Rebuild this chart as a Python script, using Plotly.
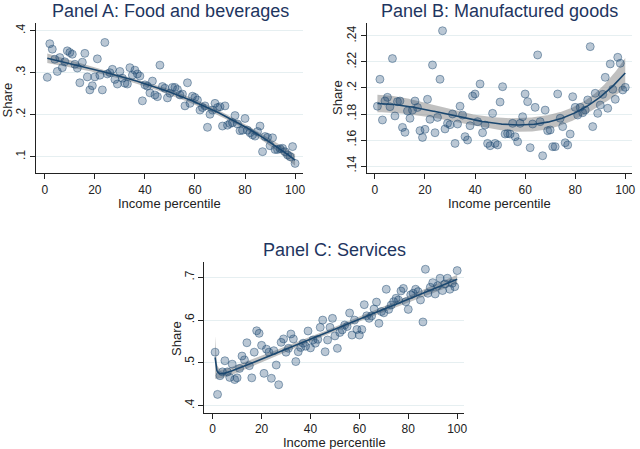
import numpy as np
import plotly.graph_objects as go

pct = list(range(1, 101))

food = [0.289, 0.369, 0.356, 0.332, 0.303, 0.336, 0.312, 0.326, 0.352, 0.348,
        0.344, 0.320, 0.311, 0.276, 0.325, 0.346, 0.290, 0.259, 0.269, 0.290,
        0.333, 0.294, 0.259, 0.372, 0.297, 0.300, 0.308, 0.284, 0.273, 0.303,
        0.287, 0.275, 0.273, 0.312, 0.294, 0.306, 0.297, 0.292, 0.233, 0.271,
        0.268, 0.252, 0.280, 0.247, 0.243, 0.318, 0.267, 0.263, 0.240, 0.251,
        0.265, 0.265, 0.260, 0.247, 0.249, 0.221, 0.276, 0.227, 0.244, 0.241,
        0.235, 0.211, 0.217, 0.221, 0.170, 0.201, 0.211, 0.227, 0.217, 0.219,
        0.173, 0.221, 0.175, 0.179, 0.181, 0.198, 0.178, 0.162, 0.163, 0.191,
        0.163, 0.157, 0.152, 0.149, 0.160, 0.173, 0.112, 0.148, 0.146, 0.126,
        0.145, 0.117, 0.117, 0.119, 0.120, 0.112, 0.104, 0.100, 0.124, 0.084]

manuf = [0.186, 0.2067, 0.1754, 0.190, 0.1928, 0.1856, 0.2226, 0.1785, 0.1895, 0.190,
         0.1697, 0.1659, 0.1823, 0.1767, 0.183, 0.190, 0.185, 0.1672, 0.162, 0.1682,
         0.1913, 0.1759, 0.2177, 0.1656, 0.1774, 0.2067, 0.244, 0.1685, 0.1728, 0.1718,
         0.180, 0.1574, 0.1723, 0.186, 0.1792, 0.1626, 0.160, 0.171, 0.1938, 0.1954,
         0.1741, 0.2031, 0.1656, 0.1715, 0.1574, 0.1556, 0.1805, 0.1574, 0.1562, 0.1892,
         0.201, 0.1646, 0.165, 0.1646, 0.1728, 0.1626, 0.1587, 0.1728, 0.1779, 0.1954,
         0.1895, 0.1541, 0.1723, 0.1851, 0.2254, 0.1741, 0.1479, 0.183, 0.1672, 0.1677,
         0.1549, 0.1549, 0.1954, 0.1767, 0.1703, 0.1579, 0.1562, 0.1646, 0.1933, 0.1851,
         0.1792, 0.1851, 0.181, 0.183, 0.1908, 0.2318, 0.1703, 0.1959, 0.1805, 0.1869,
         0.1951, 0.2082, 0.1844, 0.2185, 0.199, 0.1913, 0.2236, 0.219, 0.1985, 0.2005]

serv = [0.525, 0.4264, 0.470, 0.479, 0.505, 0.479, 0.466, 0.497, 0.461, 0.465,
        0.487, 0.516, 0.507, 0.547, 0.4935, 0.465, 0.525, 0.575, 0.569, 0.541,
        0.4755, 0.532, 0.525, 0.464, 0.5285, 0.495, 0.449, 0.548, 0.556, 0.525,
        0.534, 0.5675, 0.556, 0.503, 0.526, 0.536, 0.546, 0.539, 0.5745, 0.535,
        0.5535, 0.546, 0.555, 0.583, 0.600, 0.526, 0.5535, 0.583, 0.604, 0.563,
        0.534, 0.571, 0.577, 0.5885, 0.585, 0.6166, 0.565, 0.600, 0.578, 0.565,
        0.578, 0.636, 0.610, 0.604, 0.6096, 0.626, 0.642, 0.5924, 0.620, 0.617,
        0.672, 0.625, 0.635, 0.643, 0.651, 0.647, 0.668, 0.674, 0.643, 0.625,
        0.659, 0.6626, 0.672, 0.6665, 0.647, 0.5956, 0.7187, 0.6626, 0.6766, 0.6875,
        0.661, 0.680, 0.6977, 0.669, 0.6844, 0.6977, 0.672, 0.686, 0.678, 0.7156]

titles = ["Panel A: Food and beverages", "Panel B: Manufactured goods", "Panel C: Services"]
x_ticks = [0, 20, 40, 60, 80, 100]
yticks_A = [0.1, 0.2, 0.3, 0.4]
ylabels_A = [".1", ".2", ".3", ".4"]
yticks_B = [0.14, 0.16, 0.18, 0.20, 0.22, 0.24]
ylabels_B = [".14", ".16", ".18", ".2", ".22", ".24"]
yticks_C = [0.4, 0.5, 0.6, 0.7]
ylabels_C = [".4", ".5", ".6", ".7"]


def fp_fit(x, y):
    x = np.asarray(x, float)
    y = np.asarray(y, float)
    P = [-2, -1, -0.5, 0, 0.5, 1, 2, 3]

    def f(v, p):
        return np.log(v) if p == 0 else v ** p

    def design(v, p1, p2):
        t1 = f(v, p1)
        t2 = f(v, p2) * np.log(v) if p1 == p2 else f(v, p2)
        return np.column_stack([np.ones_like(v), t1, t2])

    best = None
    for i, p1 in enumerate(P):
        for p2 in P[i:]:
            X = design(x, p1, p2)
            beta = np.linalg.lstsq(X, y, rcond=None)[0]
            rss = float(np.sum((y - X @ beta) ** 2))
            if best is None or rss < best[0]:
                best = (rss, p1, p2, beta, X)
    rss, p1, p2, beta, X = best
    n = len(x)
    s2 = rss / (n - 3)
    XtXi = np.linalg.inv(X.T @ X)
    xg = np.linspace(x.min(), x.max(), 400)
    Xg = design(xg, p1, p2)
    yh = Xg @ beta
    se = np.sqrt(s2 * np.sum((Xg @ XtXi) * Xg, axis=1))
    t = 1.985
    return xg, yh, yh - t * se, yh + t * se


NAVY = "#1a476f"
fig = go.Figure()

panels = [
    (food, "x", "y"),
    (manuf, "x2", "y2"),
    (serv, "x3", "y3"),
]
for vals, xa, ya in panels:
    xg, yh, lo, hi = fp_fit(pct, vals)
    fig.add_trace(go.Scatter(
        x=np.concatenate([xg, xg[::-1]]), y=np.concatenate([hi, lo[::-1]]),
        fill="toself", fillcolor="rgba(140,140,140,0.55)", line=dict(width=0),
        mode="lines", hoverinfo="skip", showlegend=False, xaxis=xa, yaxis=ya))
    fig.add_trace(go.Scatter(
        x=pct, y=vals, mode="markers", showlegend=False, xaxis=xa, yaxis=ya,
        marker=dict(size=8, color="rgba(26,71,111,0.3)",
                    line=dict(color="rgba(26,71,111,0.45)", width=1))))
    fig.add_trace(go.Scatter(
        x=xg, y=yh, mode="lines", showlegend=False, xaxis=xa, yaxis=ya,
        line=dict(color=NAVY, width=1.6)))

W, H = 640, 449
FONT = "Liberation Sans, Arial, sans-serif"


def px(xp):
    return xp / W


def py(yp):
    return 1 - yp / H


common_x = dict(showgrid=False, zeroline=False, showline=True,
                linecolor="#222", linewidth=1.2, ticks="outside", ticklen=5,
                tickcolor="#222", tickwidth=1, tickvals=x_ticks,
                tickfont=dict(size=12, color="#222", family=FONT))
common_y = dict(showgrid=True, gridcolor="#e6eff1", gridwidth=1, zeroline=False,
                showline=True, linecolor="#222", linewidth=1.2, ticks="outside",
                ticklen=5, tickcolor="#222", tickwidth=1, tickangle=-90,
                tickfont=dict(size=12, color="#222", family=FONT))

fig.update_layout(
    width=W, height=H, margin=dict(l=0, r=0, t=0, b=0),
    paper_bgcolor="white", plot_bgcolor="white",
    font=dict(family=FONT),
    xaxis=dict(common_x, domain=[px(36), px(305)], range=[-3.6, 103.2], anchor="y"),
    yaxis=dict(common_y, domain=[py(173), py(23)], range=[0.0612, 0.4183],
               tickvals=yticks_A, ticktext=ylabels_A, anchor="x"),
    xaxis2=dict(common_x, domain=[px(369.3), px(636)], range=[-3.17, 102.7], anchor="y2"),
    yaxis2=dict(common_y, domain=[py(173.3), py(22.7)], range=[0.1344, 0.2502],
                tickvals=yticks_B, ticktext=ylabels_B, anchor="x2"),
    xaxis3=dict(common_x, domain=[px(205.7), px(466.7)], range=[-3.37, 102.7], anchor="y3"),
    yaxis3=dict(common_y, domain=[py(412.7), py(261.7)], range=[0.3836, 0.7364],
                tickvals=yticks_C, ticktext=ylabels_C, anchor="x3"),
)

TITLE_COLOR = "#1e3560"
ann = []
title_pos = [(171.5, 11), (502.6, 11), (337, 250)]
for t, (cx, cy) in zip(titles, title_pos):
    ann.append(dict(text=t, x=px(cx), y=py(cy), xref="paper", yref="paper",
                    xanchor="center", yanchor="middle", showarrow=False,
                    font=dict(size=18, color=TITLE_COLOR, family=FONT)))
for cx, cy in [(171, 204), (503, 204), (336.7, 442.3)]:
    ann.append(dict(text="Income percentile", x=px(cx), y=py(cy), xref="paper",
                    yref="paper", xanchor="center", yanchor="middle", showarrow=False,
                    font=dict(size=13, color="#222", family=FONT)))
for cx, cy in [(7.5, 100), (340, 97), (177, 338)]:
    ann.append(dict(text="Share", x=px(cx), y=py(cy), xref="paper", yref="paper",
                    xanchor="center", yanchor="middle", showarrow=False, textangle=-90,
                    font=dict(size=13, color="#222", family=FONT)))
fig.update_layout(annotations=ann)

fig.write_html("out.html")
